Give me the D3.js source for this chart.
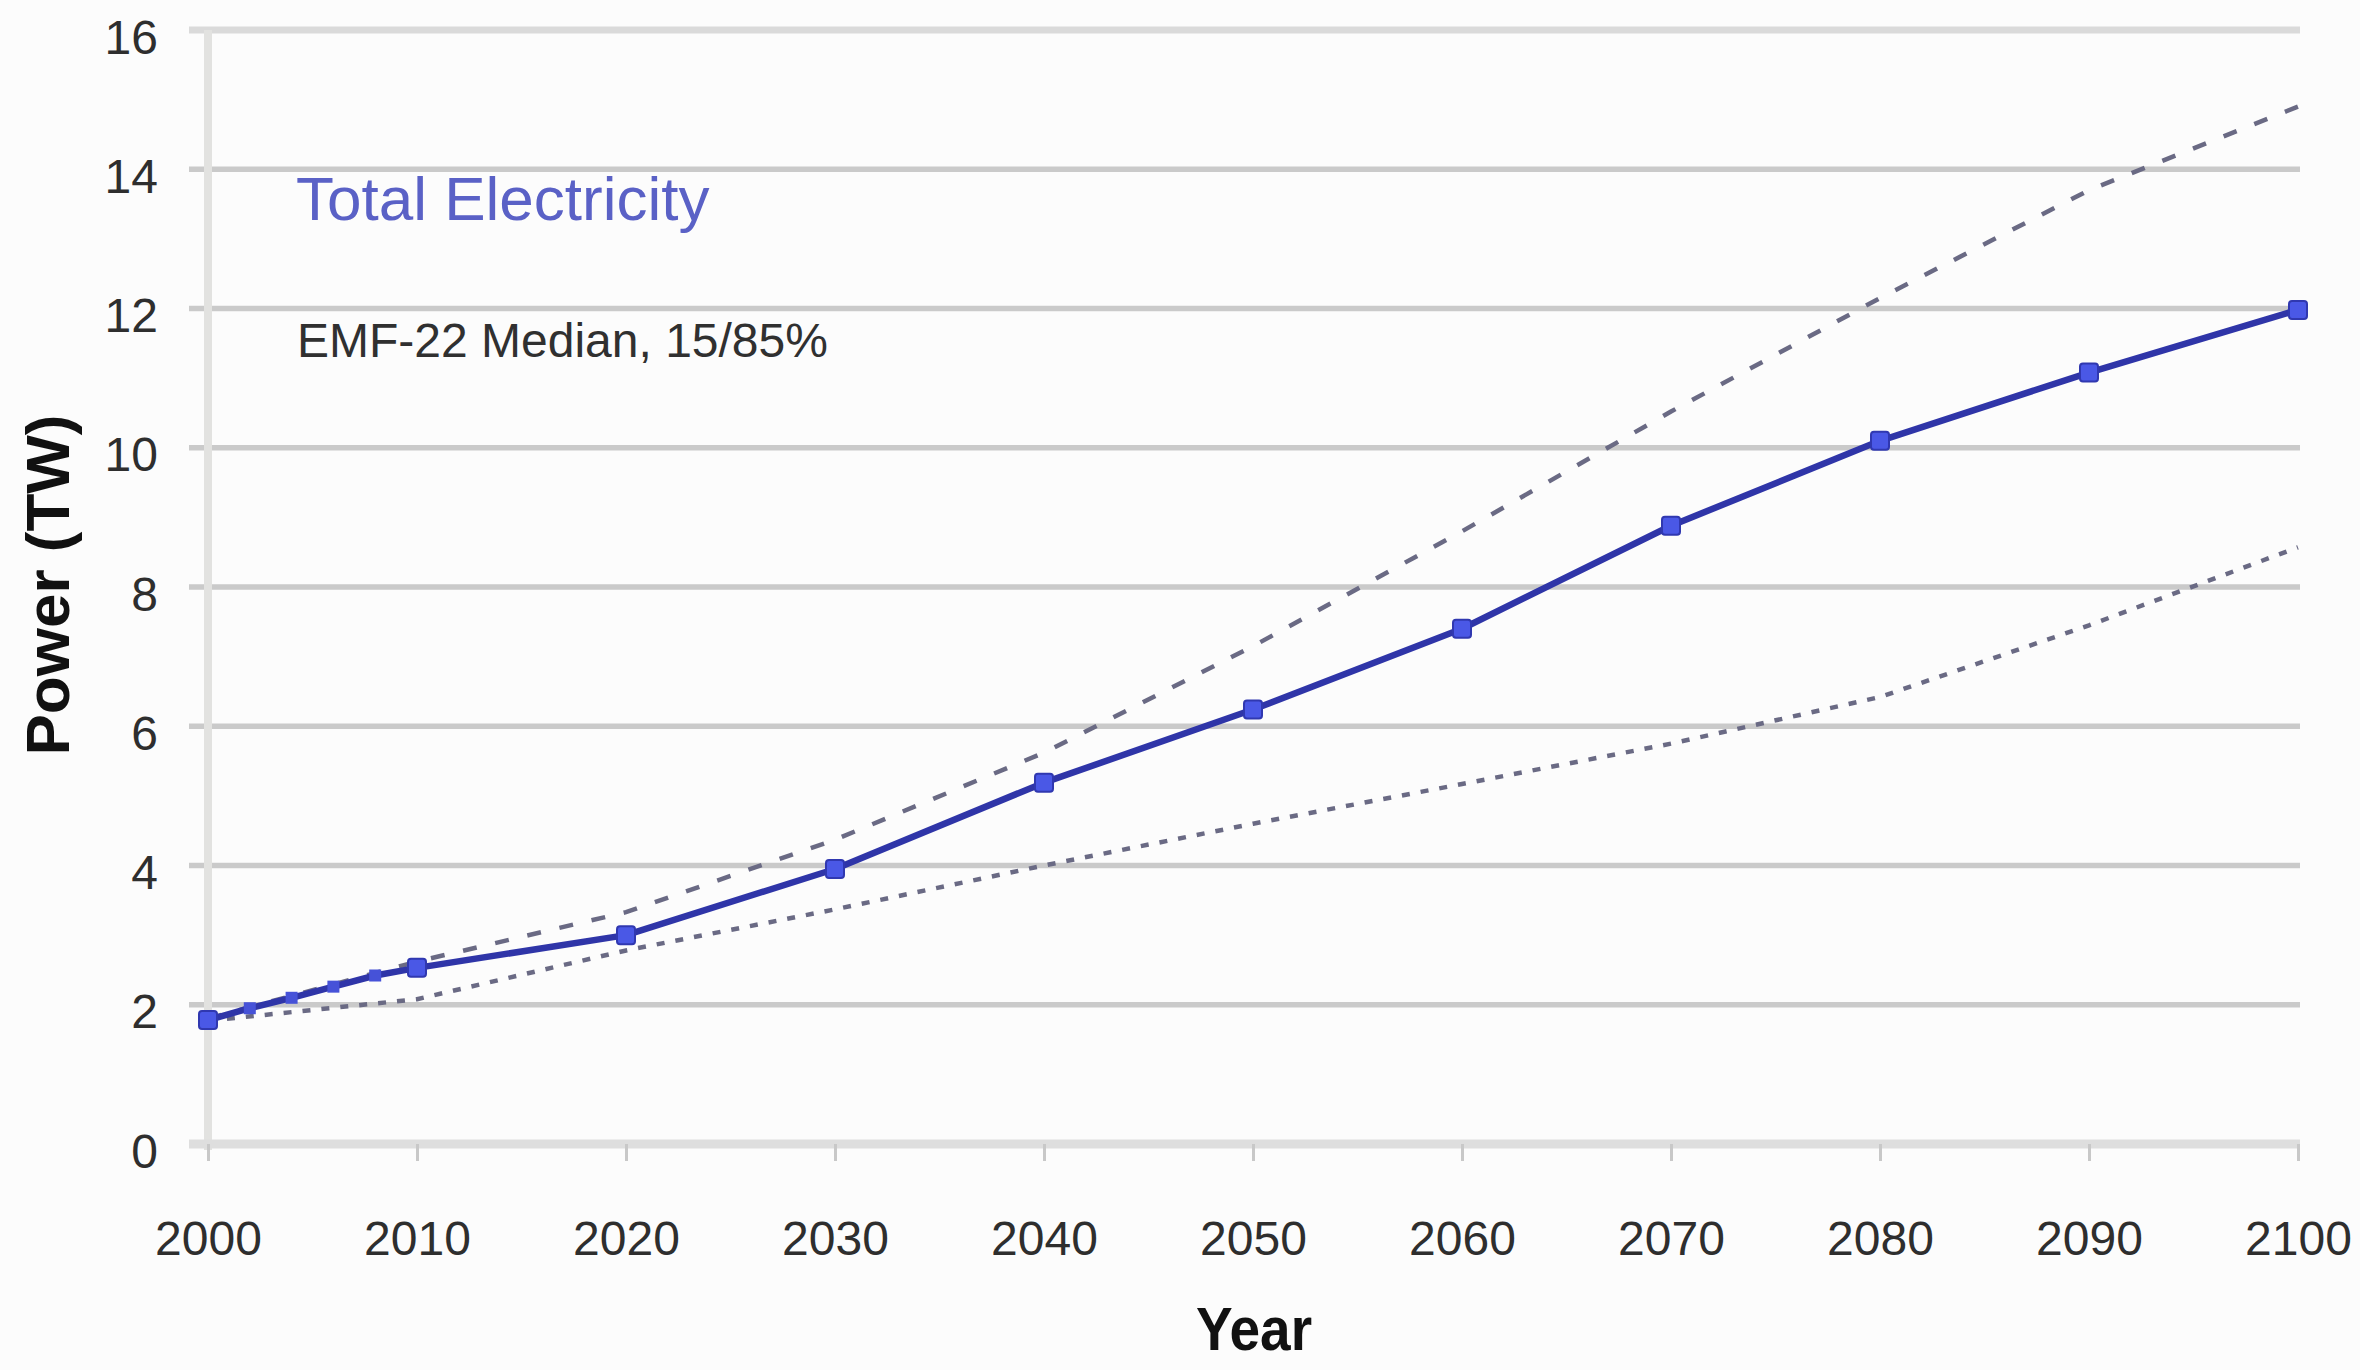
<!DOCTYPE html>
<html>
<head>
<meta charset="utf-8">
<script src="https://cdn.jsdelivr.net/npm/d3@7"></script>
<style>
  html, body { margin: 0; padding: 0; background: #fcfcfc; }
  svg { display: block; }
</style>
</head>
<body>
<svg id="chart" width="2360" height="1370"></svg>
<script>
// ---- data ----
const years = [2000, 2010, 2020, 2030, 2040, 2050, 2060, 2070, 2080, 2090, 2100];
const medianValues = [1.78, 2.53, 3.00, 3.95, 5.19, 6.24, 7.40, 8.88, 10.10, 11.08, 11.98];
const histYears = [2002, 2004, 2006, 2008];
const histValues = [1.95, 2.10, 2.26, 2.42];
const upperValues = [1.80, 2.62, 3.33, 4.37, 5.62, 7.15, 8.80, 10.52, 12.15, 13.70, 14.90];
const lowerValues = [1.77, 2.08, 2.78, 3.37, 4.00, 4.60, 5.17, 5.75, 6.42, 7.45, 8.57];
const yTicks = [0, 2, 4, 6, 8, 10, 12, 14, 16];
const xTicks = years;
const titleText = "Total Electricity";
const subtitleText = "EMF-22 Median, 15/85%";
const xTitle = "Year";
const yTitle = "Power (TW)";

// ---- layout ----
const svg = d3.select("#chart");
const x = d3.scaleLinear().domain([2000, 2100]).range([208, 2298]);
const y = d3.scaleLinear().domain([0, 16]).range([1144, 30]);
const FONT = "'Liberation Sans', Arial, sans-serif";

svg.append("rect").attr("width", 2360).attr("height", 1370).attr("fill", "#fcfcfc");

// gridlines
svg.append("g").selectAll("line").data(yTicks.filter(d => d !== 0)).join("line")
  .attr("x1", 189).attr("x2", 2300)
  .attr("y1", d => y(d)).attr("y2", d => y(d))
  .attr("stroke", d => d === 16 ? "#dadada" : "#cacaca")
  .attr("stroke-width", d => d === 16 ? 7 : 5.5);

// y axis line
svg.append("line")
  .attr("x1", x(2000)).attr("x2", x(2000))
  .attr("y1", y(16)).attr("y2", y(0) + 6)
  .attr("stroke", "#e2e2e0").attr("stroke-width", 8);

// x axis baseline
svg.append("line")
  .attr("x1", 189).attr("x2", 2300)
  .attr("y1", y(0)).attr("y2", y(0))
  .attr("stroke", "#dedede").attr("stroke-width", 9);

// y axis labels
const yAxis = svg.append("g").attr("transform", `translate(${x(2000)},0)`)
  .call(d3.axisLeft(y).tickValues(yTicks).tickSize(0).tickPadding(50).tickFormat(d3.format("d")));
yAxis.select(".domain").remove();
yAxis.selectAll("text")
  .attr("dy", 0).attr("y", 23)
  .attr("font-family", FONT).attr("font-size", 48).attr("fill", "#2e2e2e");

// x axis ticks and labels
const xAxis = svg.append("g").attr("transform", `translate(0,${y(0)})`)
  .call(d3.axisBottom(x).tickValues(xTicks).tickSize(17).tickFormat(d3.format("d")));
xAxis.select(".domain").remove();
xAxis.selectAll("line").attr("stroke", "#c8c8c8").attr("stroke-width", 3);
xAxis.selectAll("text")
  .attr("dy", 0).attr("y", 111)
  .attr("font-family", FONT).attr("font-size", 48).attr("fill", "#2e2e2e");

// band lines
const line = d3.line().x(d => x(d[0])).y(d => y(d[1]));
svg.append("path")
  .datum(years.map((yr, i) => [yr, upperValues[i]]))
  .attr("d", line).attr("fill", "none")
  .attr("stroke", "#6a6a84").attr("stroke-width", 4.5)
  .attr("stroke-dasharray", "14,19");
svg.append("path")
  .datum(years.map((yr, i) => [yr, lowerValues[i]]))
  .attr("d", line).attr("fill", "none")
  .attr("stroke", "#6a6a84").attr("stroke-width", 4.5)
  .attr("stroke-dasharray", "8,11");

// median line
const medianPts = years.map((yr, i) => [yr, medianValues[i]]);
const allMedian = [medianPts[0], ...histYears.map((yr, i) => [yr, histValues[i]]), ...medianPts.slice(1)];
svg.append("path")
  .datum(allMedian)
  .attr("d", line).attr("fill", "none")
  .attr("stroke", "#2f35a8").attr("stroke-width", 6.5).attr("stroke-linejoin", "round");

// markers
svg.append("g").selectAll("rect.hist").data(histYears.map((yr, i) => [yr, histValues[i]])).join("rect")
  .attr("x", d => x(d[0]) - 6).attr("y", d => y(d[1]) - 6)
  .attr("width", 12).attr("height", 12)
  .attr("fill", "#4652d8");
svg.append("g").selectAll("rect.main").data(medianPts).join("rect")
  .attr("x", d => x(d[0]) - 9).attr("y", d => y(d[1]) - 9)
  .attr("width", 18).attr("height", 18).attr("rx", 3)
  .attr("fill", "#4a58e6").attr("stroke", "#3038b0").attr("stroke-width", 2);

// annotation texts
svg.append("text").attr("x", 296).attr("y", 220)
  .attr("font-family", FONT).attr("font-size", 62).attr("fill", "#5a61c6")
  .text(titleText);
svg.append("text").attr("x", 297).attr("y", 357)
  .attr("font-family", FONT).attr("font-size", 48).attr("fill", "#303030")
  .text(subtitleText);

// axis titles
svg.append("text")
  .attr("transform", `translate(1254,1350) scale(1,1.12)`)
  .attr("text-anchor", "middle")
  .attr("font-family", FONT).attr("font-size", 55).attr("font-weight", "bold").attr("fill", "#111")
  .text(xTitle);
svg.append("text")
  .attr("transform", `translate(69,585) rotate(-90)`)
  .attr("text-anchor", "middle")
  .attr("font-family", FONT).attr("font-size", 62).attr("font-weight", "bold").attr("fill", "#111")
  .text(yTitle);
</script>
</body>
</html>
